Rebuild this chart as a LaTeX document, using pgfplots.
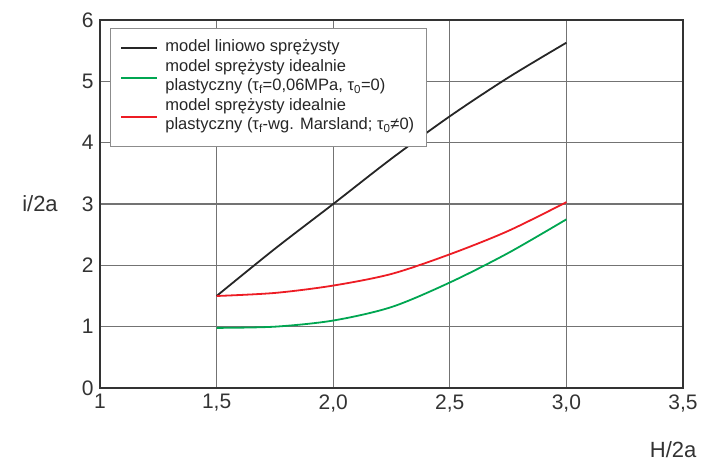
\documentclass[border=0pt]{standalone}
\usepackage{fontspec}
\setmainfont{Liberation Sans}
\usepackage{pgfplots}
\pgfplotsset{compat=1.18}

\definecolor{lgreen}{RGB}{0,166,81}
\definecolor{lred}{RGB}{237,28,36}

% legend line drawn half a row lower, for two-line entries
\pgfplotsset{lowimg/.style={legend image code/.code={%
  \path[draw=none] (0pt,0pt) -- (36pt,0pt);
  \draw[##1, line width=2pt, overlay] (0pt,-9.75pt) -- (36pt,-9.75pt);}}}

\begin{document}
\begin{tikzpicture}
\useasboundingbox (-100pt,-79pt) rectangle (602pt,388pt);
\begin{axis}[
  at={(0pt,0pt)}, anchor=south west,
  scale only axis, width=583pt, height=368pt,
  xmin=1, xmax=3.5, ymin=0, ymax=6,
  xtick={1,1.5,2,2.5,3,3.5},
  xticklabels={1,{1,5},{2,0},{2,5},{3,0},{3,5}},
  ytick={0,1,2,3,4,5,6},
  major tick length=0pt,
  /pgf/number format/assume math mode=true,
  tick label style={font=\fontsize{21}{23}\selectfont, text=black!80},
  xticklabel style={yshift=-3pt},
  yticklabel style={xshift=-3pt},
  axis line style={line width=2pt, black!80},
  grid=major,
  major grid style={line width=1.1pt, black!55},
  xlabel={H/2a}, ylabel={i/2a},
  every axis x label/.style={at={(rel axis cs:1,0)}, anchor=north east, xshift=17pt, yshift=-50pt, font=\fontsize{22}{24}\selectfont, text=black!80},
  every axis y label/.style={at={(rel axis cs:0,0.5)}, anchor=center, xshift=-60pt, font=\fontsize{22}{24}\selectfont, text=black!80},
  legend style={at={(0.017,0.978)}, anchor=north west, draw=black!45, line width=1pt, fill=white,
    font=\fontsize{16.5}{19}\selectfont, text=black!85,
    nodes={inner ysep=0pt, text height=13pt, text depth=6.5pt},
    inner xsep=10pt, inner ysep=10pt, row sep=0pt, column sep=5pt},
  legend image code/.code={\draw[#1, line width=2pt] (0pt,0pt) -- (36pt,0pt);},
  legend cell align=left,
]
\addplot[black!85, line width=1.8pt, smooth] coordinates {
  (1.5,1.5) (1.75,2.27) (2.0,3.0) (2.25,3.74) (2.5,4.43) (2.75,5.06) (3.0,5.63)};
\addplot[lgreen, line width=1.8pt, smooth, lowimg] coordinates {
  (1.5,0.98) (1.75,1.0) (2.0,1.1) (2.25,1.32) (2.5,1.72) (2.75,2.2) (3.0,2.75)};
\addlegendimage{empty legend}
\addplot[lred, line width=1.8pt, smooth, lowimg] coordinates {
  (1.5,1.5) (1.75,1.55) (2.0,1.67) (2.25,1.86) (2.5,2.18) (2.75,2.56) (3.0,3.03)};
\addlegendimage{empty legend}
\legend{model liniowo sprężysty,
  model sprężysty idealnie,
  {plastyczny (τ\textsubscript{f}=0,06MPa, τ\textsubscript{0}=0)},
  model sprężysty idealnie,
  {plastyczny (τ\textsubscript{f}-wg. Marsland; τ\textsubscript{0}≠0)}}
\end{axis}
\end{tikzpicture}
\end{document}
